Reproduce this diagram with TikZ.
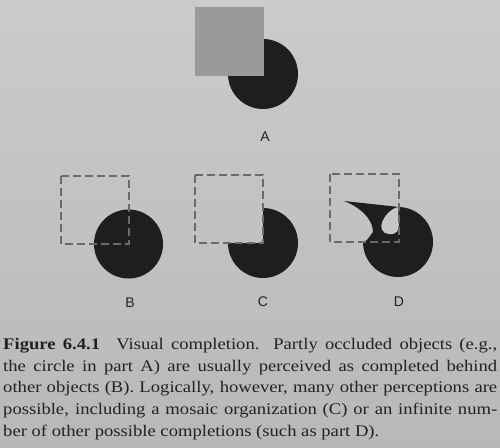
\documentclass[tikz,border=0pt]{standalone}
\usepackage{fontspec}
\setmainfont{Liberation Serif}[FakeStretch=1.15]
\newfontfamily\labelfont{Liberation Sans}
\definecolor{bgtop}{HTML}{CBCBCB}
\definecolor{bgbot}{HTML}{B8B8B8}
\definecolor{bgmid}{HTML}{C6C6C6}
\definecolor{ink}{HTML}{1E1E1E}
\definecolor{occl}{HTML}{9A9A9A}
\definecolor{dashc}{HTML}{6A6A6A}
\definecolor{txt}{HTML}{222222}
\tikzset{
  blob/.style={fill=ink},
  occluder/.style={fill=occl},
  outline/.style={draw=dashc, line width=1.5pt, dash pattern=on 8pt off 4pt},
  hole/.style={fill=bgmid},
  partlabel/.style={font=\labelfont\fontsize{14}{14}\selectfont, text=txt, inner sep=0pt},
}
\begin{document}
\begin{tikzpicture}[x=1pt,y=-1pt]
\useasboundingbox (0,0) rectangle (500,447);
\shade[top color=bgtop, bottom color=bgbot] (0,0) rectangle (500,447);

% Panel A
\fill[blob] (263,74) circle[radius=35];
\fill[occluder] (195,7) rectangle (264,76);
\node[partlabel] (labA) at (265,137) {A};

% Panel B
\fill[blob] (128.5,244) circle[radius=34.5];
\draw[outline] (61,176) rectangle (129,244);
\node[partlabel] (labB) at (130,303) {B};

% Panel C
\fill[blob] (263,243) -- ++(270:35) arc[start angle=270, end angle=540, radius=35] -- cycle;
\draw[outline] (195,175) rectangle (263,243);
\node[partlabel] (labC) at (263,302) {C};

% Panel D
\fill[blob] (398,242) -- ++(270:35) arc[start angle=270, end angle=540, radius=35] -- cycle;
\fill[blob] (399,207) -- (344,201) .. controls (360,207) and (373,219) .. (373,232)
  -- (367,240) -- (363,242) -- (399,242) -- cycle;
\fill[hole] (398,207) .. controls (385,210) and (373,232) .. (389,234)
  .. controls (397,235) and (399,230) .. (399,224) -- cycle;
\draw[outline] (330,174) rectangle (399,242);
\node[partlabel] (labD) at (399,302) {D};

% Caption
\node[anchor=north west, inner sep=0pt, text width=494pt, align=justify, text=txt,
  font=\fontsize{16.2}{21.7}\selectfont] (caption) at (3,338)
  {\textbf{Figure 6.4.1}\quad Visual completion. Partly occluded objects (e.g.,\linebreak
  the circle in part A) are usually perceived as completed behind\linebreak
  other objects (B). Logically, however, many other perceptions are\linebreak
  possible, including a mosaic organization (C) or an infinite num-\linebreak
  ber of other possible completions (such as part D).};
\end{tikzpicture}
\end{document}
